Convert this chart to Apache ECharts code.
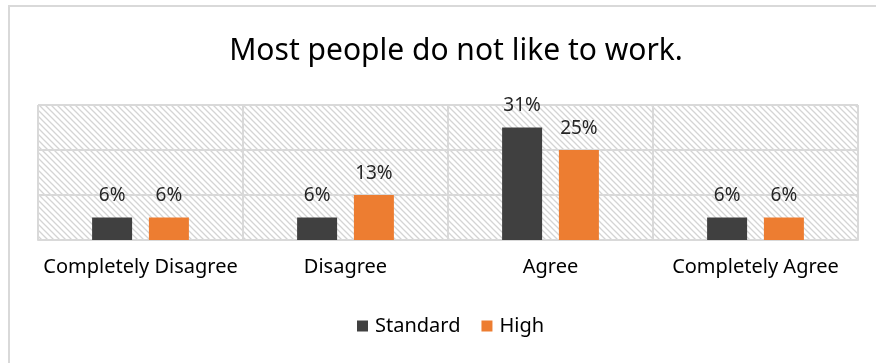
<!DOCTYPE html>
<html>
<head>
<meta charset="utf-8">
<script src="https://cdn.jsdelivr.net/npm/echarts@6/dist/echarts.min.js"></script>
<style>
  html, body { margin: 0; padding: 0; background: #fff; }
  #chart { width: 876px; height: 363px; }
  .frame { position: absolute; left: 8px; top: 5px; width: 880px; height: 370px; border: 2px solid #d9d9d9; box-sizing: border-box; pointer-events: none; }
</style>
</head>
<body>
<div id="chart"></div>
<div class="frame"></div>
<script>
// data
var categories = ['Completely Disagree', 'Disagree', 'Agree', 'Completely Agree'];
var standard = [6.25, 6.25, 31.25, 6.25];
var high = [6.25, 12.5, 25, 6.25];
var seriesNames = ['Standard', 'High'];

// hatch pattern for the plot background
function makeHatch() {
    var c = document.createElement('canvas');
    c.width = 6;
    c.height = 6;
    var ctx = c.getContext('2d');
    ctx.fillStyle = '#ffffff';
    ctx.fillRect(0, 0, 6, 6);
    ctx.strokeStyle = '#d4d4d4';
    ctx.lineWidth = 1.3;
    ctx.beginPath();
    ctx.moveTo(-1, -1); ctx.lineTo(7, 7);
    ctx.moveTo(-4, 2); ctx.lineTo(4, 10);
    ctx.moveTo(2, -4); ctx.lineTo(10, 4);
    ctx.stroke();
    return c;
}

var font = '"Noto Sans", "Open Sans", sans-serif';
var labelCfg = {
    show: true,
    position: 'top',
    distance: 12,
    color: '#262626',
    fontSize: 19,
    fontFamily: font,
    formatter: function(p) { return Math.round(p.value) + '%'; }
};

var myChart = echarts.init(document.getElementById('chart'));
var option = {
    animation: false,
    title: {
        text: 'Most people do not like to work.',
        left: 451,
        textAlign: 'center',
        top: 31,
        textStyle: { fontFamily: font, fontSize: 30, fontWeight: 'normal', color: '#000' }
    },
    legend: {
        data: seriesNames,
        bottom: 22,
        left: 352,
        itemWidth: 11,
        itemHeight: 11,
        itemGap: 21,
        icon: 'rect',
        textStyle: { fontFamily: font, fontSize: 20, color: '#000', padding: [0, 0, 0, 2] }
    },
    grid: {
        left: 38,
        right: 18,
        top: 105,
        bottom: 123,
        show: true,
        backgroundColor: { image: makeHatch(), repeat: 'repeat' },
        borderWidth: 0
    },
    xAxis: {
        type: 'category',
        data: categories,
        axisLine: { show: true, lineStyle: { color: '#d9d9d9', width: 2 } },
        axisTick: { show: false },
        splitLine: { show: true, interval: 0, lineStyle: { color: '#d9d9d9', width: 2 } },
        axisLabel: { interval: 0, color: '#000', fontSize: 20, fontFamily: font, margin: 17 }
    },
    yAxis: {
        type: 'value',
        min: 0,
        max: 37.5,
        interval: 12.5,
        axisLabel: { show: false },
        axisLine: { show: false },
        axisTick: { show: false },
        splitLine: { show: true, lineStyle: { color: '#d9d9d9', width: 2 } }
    },
    series: [{
        name: seriesNames[0],
        type: 'bar',
        data: standard,
        barWidth: 40,
        barGap: '42%',
        itemStyle: { color: '#404040' },
        label: labelCfg
    }, {
        name: seriesNames[1],
        type: 'bar',
        data: high,
        barWidth: 40,
        itemStyle: { color: '#ed7d31' },
        label: labelCfg
    }]
};
myChart.setOption(option);
</script>
</body>
</html>
